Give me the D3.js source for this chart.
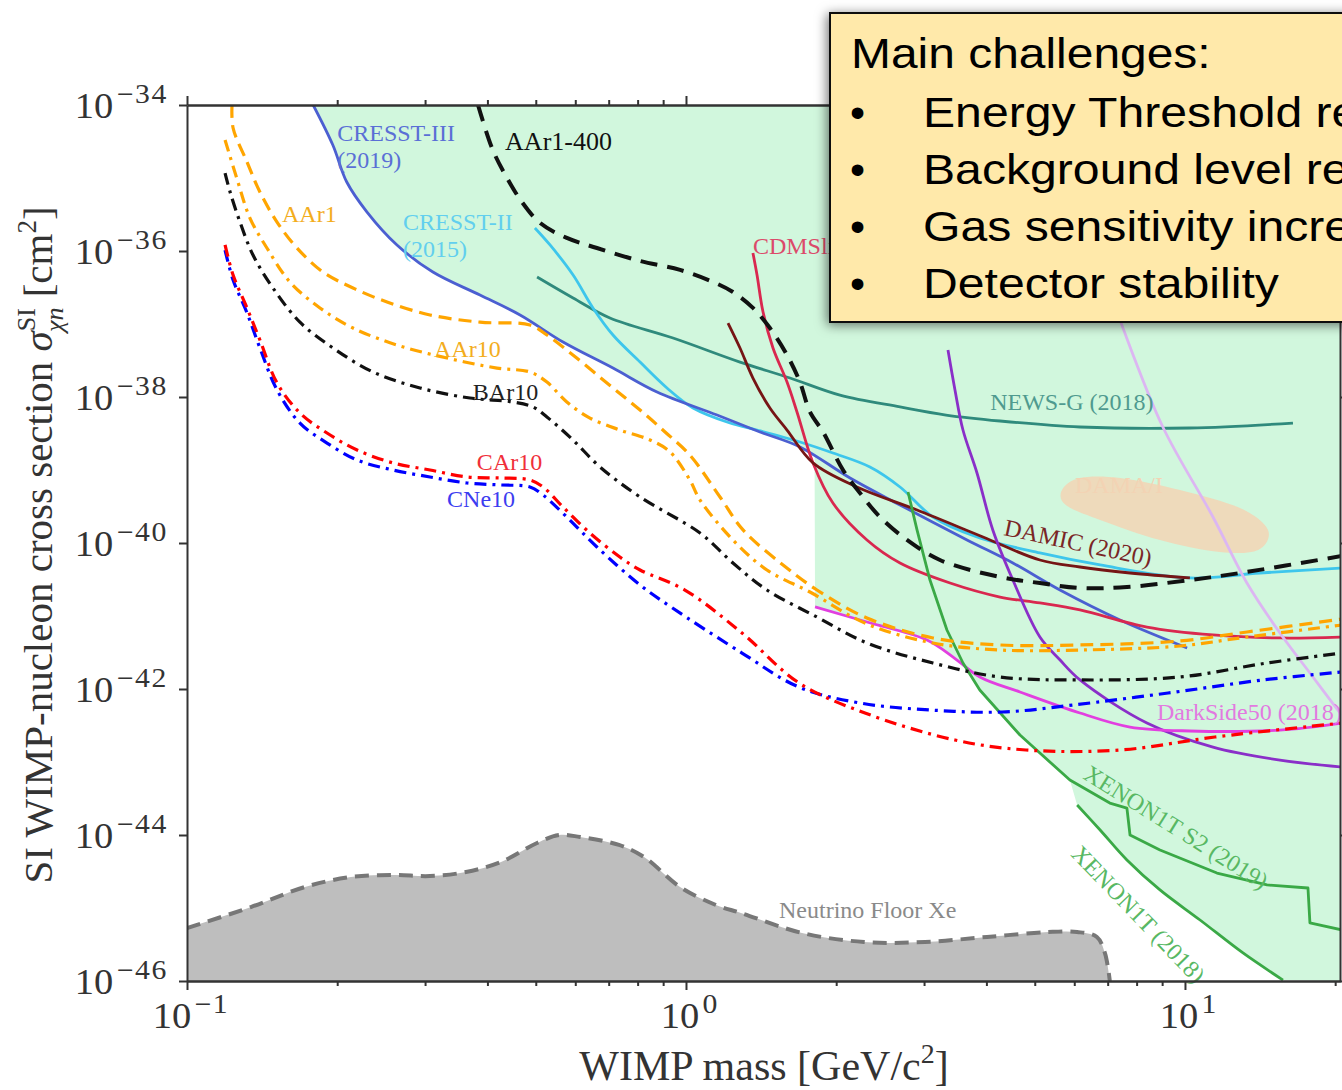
<!DOCTYPE html>
<html lang="en">
<head>
<meta charset="utf-8">
<title>SI WIMP-nucleon exclusion limits</title>
<script src="https://d3js.org/d3.v7.min.js"></script>
<style>
  body { margin: 0; background: #fff; }
  svg { display: block; }
</style>
</head>
<body>
<svg width="1342" height="1090"></svg>
<script>

// ---- data: [WIMP mass (GeV/c^2), cross section (cm^2)] ----
const xTicksMajor = [0.1, 1, 10];
const yTicksMajor = [1e-34, 1e-36, 1e-38, 1e-40, 1e-42, 1e-44, 1e-46];

const cresst3 = [[0.179,1e-34],[0.196,2.83e-35],[0.209,8.81e-36],[0.2295,3.42e-36],[0.2635,1.21e-36],[0.311,5.15e-37],[0.3865,2.49e-37],[0.465,1.33e-37],[0.567,5.66e-38],[0.714,2.49e-38],[0.875,1.17e-38],[1.154,5.66e-39],[1.407,3.32e-39],[1.692,2.07e-39],[2.132,7.77e-40],[2.685,3.32e-40],[3.658,1.10e-40],[4.52,5.32e-41],[5.617,2.27e-41],[7.41,8.81e-42],[10.1,3.65e-42]];
const cresst2 = [[0.498,2.07e-36],[0.534,1.21e-36],[0.594,4.69e-37],[0.651,1.66e-37],[0.714,7.06e-38],[0.809,3.01e-38],[0.916,1.33e-38],[1.033,7.06e-39],[1.225,4.40e-39],[1.388,3.53e-39],[1.692,2.42e-39],[1.97,1.71e-39],[2.337,1.10e-39],[2.685,5.85e-40],[3.126,2.27e-40],[3.83,1.21e-40],[5.12,7.30e-41],[6.76,5.0e-41],[10.23,3.32e-41],[14.14,3.88e-41],[20.64,4.55e-41]];
const newsG = [[0.503,4.40e-37],[0.594,2.27e-37],[0.704,1.21e-37],[0.942,6.43e-38],[1.283,3.01e-38],[1.616,1.82e-38],[2.035,1.06e-38],[2.685,7.30e-39],[3.32,5.66e-39],[4.26,4.69e-39],[6.16,3.88e-39],[10.23,3.76e-39],[16.46,4.40e-39]];
const aar1_400 = [[0.383,1e-34],[0.410,2.42e-35],[0.438,1e-35],[0.469,4.69e-36],[0.510,2.42e-36],[0.577,1.51e-36],[0.663,1.10e-36],[0.809,7.30e-37],[0.973,5.5e-37],[1.133,3.76e-37],[1.242,2.74e-37],[1.362,1.66e-37],[1.473,8.81e-38],[1.594,3.76e-38],[1.692,1.60e-38],[1.772,6.24e-39],[1.882,3.32e-39],[2.064,1e-39],[2.232,4.84e-40],[2.448,2.27e-40],[2.773,1.10e-40],[3.228,5.85e-41],[4.26,3.42e-41],[5.12,2.83e-41],[6.16,2.42e-41],[7.65,2.49e-41],[10.23,3.11e-41],[12.89,3.88e-41],[20.64,6.64e-41]];
const aar1 = [[0.1231,1e-34],[0.1237,4.84e-35],[0.1319,1.66e-35],[0.140,6.43e-36],[0.1515,2.49e-36],[0.1661,1.10e-36],[0.1873,5.15e-37],[0.2151,3.11e-37],[0.2517,2.0e-37],[0.3069,1.33e-37],[0.3865,1.06e-37],[0.4868,9.68e-38],[0.5264,7.06e-38],[0.5935,3.76e-38],[0.714,1.33e-38],[0.809,6.64e-39],[0.908,3.32e-39],[1.018,1.60e-39],[1.17,4.27e-40],[1.301,1.51e-40],[1.565,5.0e-41],[1.83,2.27e-41],[2.305,9.4e-42],[3.126,5.0e-42],[4.26,4.01e-42],[6.16,4.01e-42],[9.77,4.55e-42],[13.31,6.04e-42],[20.64,9.1e-42]];
const aar10 = [[0.1192,3.32e-35],[0.1265,8.81e-36],[0.1337,2.83e-36],[0.1446,1.10e-36],[0.1608,3.76e-37],[0.1847,1.66e-37],[0.2151,8.81e-38],[0.2635,5.15e-38],[0.3319,3.42e-38],[0.418,2.49e-38],[0.4868,2.20e-38],[0.5264,1.60e-38],[0.577,8.55e-39],[0.642,5.15e-39],[0.737,3.53e-39],[0.847,2.58e-39],[0.929,1.77e-39],[1.018,7.30e-40],[1.067,3.88e-40],[1.242,1.10e-40],[1.453,4.27e-41],[1.772,2.13e-41],[2.305,7.77e-42],[3.126,4.27e-42],[4.26,3.42e-42],[6.16,3.42e-42],[9.77,3.88e-42],[13.31,5.15e-42],[20.64,7.53e-42]];
const bar10 = [[0.1192,1.17e-35],[0.122,6.43e-36],[0.1277,2.49e-36],[0.1356,8.81e-37],[0.1487,3.11e-37],[0.1684,1.06e-37],[0.1962,4.69e-38],[0.2359,2.20e-38],[0.293,1.33e-38],[0.369,9.68e-39],[0.45,8.55e-39],[0.4935,7.30e-39],[0.5264,5.32e-39],[0.5935,2.58e-39],[0.6725,1.10e-39],[0.809,4.27e-40],[1.067,1.37e-40],[1.242,5.32e-41],[1.453,2.27e-41],[1.83,9.68e-42],[2.305,4.27e-42],[3.126,2.27e-42],[4.26,1.46e-42],[6.16,1.33e-42],[9.77,1.46e-42],[14.6,2.27e-42],[20.64,3.11e-42]];
const car10 = [[0.1192,1.21e-36],[0.1237,4.69e-37],[0.1319,1.66e-37],[0.140,6.04e-38],[0.1515,1.56e-38],[0.1684,6.04e-39],[0.1908,3.21e-39],[0.2192,1.88e-39],[0.2587,1.25e-39],[0.3069,1.0e-39],[0.364,8.02e-40],[0.424,7.77e-40],[0.4868,7.30e-40],[0.517,5.85e-40],[0.567,3.11e-40],[0.642,1.37e-40],[0.737,6.43e-41],[0.809,4.27e-41],[0.995,2.27e-41],[1.295,5.85e-42],[1.685,1.21e-42],[2.284,4.69e-43],[3.46,2.0e-43],[4.80,1.46e-43],[7.41,1.46e-43],[11.48,2.20e-43],[20.64,3.42e-43]];
const cne10 = [[0.1192,1.03e-36],[0.1237,4.01e-37],[0.1319,1.42e-37],[0.140,4.69e-38],[0.1515,1.25e-38],[0.1684,4.40e-39],[0.1908,2.34e-39],[0.2192,1.37e-39],[0.2587,1.0e-39],[0.3069,8.02e-40],[0.364,6.64e-40],[0.424,6.24e-40],[0.4868,5.85e-40],[0.517,4.55e-40],[0.577,2.27e-40],[0.663,8.81e-41],[0.809,2.66e-41],[0.933,1.33e-41],[1.295,3.11e-42],[1.685,1.06e-42],[2.232,6.43e-43],[3.097,5.15e-43],[4.30,4.84e-43],[5.97,6.04e-43],[9.25,8.81e-43],[14.33,1.33e-42],[20.64,1.71e-42]];
const cdmsLite = [[1.362,9.4e-37],[1.388,4.69e-37],[1.427,1.46e-37],[1.494,4.69e-38],[1.594,1.60e-38],[1.669,6.24e-39],[1.797,1.25e-39],[1.97,3.53e-40],[2.305,1.10e-40],[2.685,5.32e-41],[3.382,2.83e-41],[4.26,1.82e-41],[5.12,1.51e-41],[6.16,1.21e-41],[8.39,7.06e-42],[11.38,5.5e-42],[15.5,5.0e-42],[20.64,5.15e-42]];
const damic = [[1.214,1.03e-37],[1.283,4.69e-38],[1.362,1.82e-38],[1.473,7.06e-39],[1.594,3.53e-39],[1.797,1.25e-39],[2.201,5.85e-40],[2.904,2.83e-40],[3.937,1.21e-40],[5.12,5.85e-41],[6.16,4.69e-41],[7.76,3.88e-41],[10.23,3.32e-41]];
const darkSide50 = [[1.814,1.33e-41],[2.305,8.28e-42],[3.04,4.69e-42],[3.43,2.74e-42],[3.88,1.46e-42],[4.67,9.1e-43],[6.16,4.69e-43],[7.76,3.01e-43],[10.23,2.66e-43],[15.5,2.74e-43],[20.64,3.42e-43]];
const violetLimit = [[3.35,4.40e-38],[3.46,1.25e-38],[3.59,3.53e-39],[3.83,9.1e-40],[4.12,1.51e-40],[4.52,3.11e-41],[5.12,5.15e-42],[5.62,2.49e-42],[6.16,1.33e-42],[8.39,3.42e-43],[11.38,1.60e-43],[15.5,1.06e-43],[20.64,8.55e-44]];
const lavenderLimit = [[6.60,1.03e-36],[7.41,1.13e-37],[9.03,3.88e-39],[11.38,2.27e-40],[13.31,2.83e-41],[15.5,5.85e-42],[18.05,1.46e-42],[20.45,4.69e-43]];
const xenonS2 = [[2.786,5.0e-40],[2.904,1.51e-40],[3.083,3.11e-41],[3.334,6.43e-42],[3.59,2.27e-42],[3.88,9.68e-43],[4.67,2.34e-43],[5.88,5.66e-44],[7.07,2.74e-44],[7.65,2.34e-44],[7.76,1.0e-44],[8.91,6.24e-45],[11.59,3.01e-45],[14.6,2.07e-45],[17.64,1.88e-45],[17.8,6.24e-46],[20.64,5.0e-46]];
const xenon1t = [[6.08,2.58e-44],[6.76,1.17e-44],[7.65,4.55e-45],[8.91,1.77e-45],[10.72,6.85e-46],[13.07,2.42e-46],[15.72,1.03e-46]];
const neutrinoFloor = [[0.1,5.32e-46],[0.1343,1.03e-45],[0.1723,1.94e-45],[0.2131,2.66e-45],[0.260,2.83e-45],[0.3069,2.74e-45],[0.3623,3.11e-45],[0.426,4.27e-45],[0.503,7.77e-45],[0.5564,1.0e-44],[0.6133,9.4e-45],[0.734,7.30e-45],[0.824,5.0e-45],[0.973,1.94e-45],[1.148,1.10e-45],[1.289,8.55e-46],[1.708,4.55e-46],[2.274,3.42e-46],[3.013,3.42e-46],[4.01,4.01e-46],[5.32,4.69e-46],[6.08,4.69e-46],[6.66,4.01e-46],[6.91,2.42e-46],[7.07,1e-46]];
const damaRegion = [[5.67,5.32e-40],[6.16,7.77e-40],[7.41,7.77e-40],[9.77,5.32e-40],[12.89,3.01e-40],[14.67,1.51e-40],[14.01,8.02e-41],[11.75,7.53e-41],[8.91,1.10e-40],[6.76,2.07e-40],[5.77,3.32e-40]];

// curve labels: [text, mass, sigma, rotation]
const curveLabels = [
  ["CRESST-III", 0.2, 3.21e-35, 0], ["(2019)", 0.2, 1.37e-35, 0],
  ["AAr1-400", 0.434, 2.42e-35, 0],
  ["AAr1", 0.155, 2.49e-36, 0],
  ["CRESST-II", 0.271, 1.94e-36, 0], ["(2015)", 0.271, 8.28e-37, 0],
  ["AAr10", 0.3126, 3.53e-38, 0],
  ["BAr10", 0.374, 9.1e-39, 0],
  ["CAr10", 0.381, 1e-39, 0],
  ["CNe10", 0.332, 3.11e-40, 0],
  ["CDMSlite", 1.362, 9.1e-37, 0],
  ["NEWS-G (2018)", 4.07, 6.64e-39, 0],
  ["DAMA/I", 6.02, 4.84e-40, 0],
  ["DAMIC (2020)", 4.32, 1.29e-40, 12],
  ["DarkSide50 (2018)", 8.79, 3.76e-43, 0],
  ["XENON1T S2 (2019)", 6.22, 6.04e-44, 32],
  ["XENON1T (2018)", 5.88, 5.32e-45, 46],
  ["Neutrino Floor Xe", 1.536, 7.30e-46, 0]
];

const boxTitle = "Main challenges:";
const boxItems = ["Energy Threshold reduction", "Background level reduction", "Gas sensitivity increase", "Detector stability"];

// ---- scales ----
const svg = d3.select("svg");
const x = d3.scaleLog().domain([0.1, 20.45]).range([187, 1340]);
const y = d3.scaleLog().domain([1e-46, 1e-34]).range([981, 105]);
const serif = "'Liberation Serif', 'DejaVu Serif', serif";

const defs = svg.append("defs");
defs.append("clipPath").attr("id", "plotclip")
    .append("rect").attr("x", 187).attr("y", 105).attr("width", 1153).attr("height", 876);
const shadow = defs.append("filter").attr("id", "shadow")
    .attr("x", "-10%").attr("y", "-20%").attr("width", "130%").attr("height", "140%");
shadow.append("feDropShadow").attr("dx", -2).attr("dy", 2).attr("stdDeviation", 6)
    .attr("flood-color", "#000").attr("flood-opacity", 0.55);

const line = d3.line().x(d => x(d[0])).y(d => y(d[1]));
const smooth = d3.line().x(d => x(d[0])).y(d => y(d[1])).curve(d3.curveCatmullRom.alpha(0.5));

const plot = svg.append("g").attr("clip-path", "url(#plotclip)");

// excluded region (green), stitched from the experimental limits
const excluded = [].concat(
  cresst3.filter(d => d[0] <= 1.7),
  [[1.81, 1.56e-39]],
  darkSide50.filter(d => d[0] <= 3.5),
  xenonS2.filter(d => d[0] >= 3.5 && d[0] <= 6),
  xenon1t,
  [[21, 1e-46], [21, 1e-34]]
);
plot.append("path").attr("d", line(excluded) + "Z").attr("fill", "#d1f7dd");

// DAMA/I region
plot.append("path")
    .attr("d", d3.line().x(d => x(d[0])).y(d => y(d[1])).curve(d3.curveCardinalClosed)(damaRegion))
    .attr("fill", "#efd8b8").attr("opacity", 0.95);

// neutrino floor
const floorArea = d3.area().x(d => x(d[0])).y0(y(1e-46)).y1(d => y(d[1])).curve(d3.curveCatmullRom.alpha(0.5));
plot.append("path").attr("d", floorArea(neutrinoFloor)).attr("fill", "#bebebe");
plot.append("path").attr("d", smooth(neutrinoFloor)).attr("fill", "none")
    .attr("stroke", "#777").attr("stroke-width", 4).attr("stroke-dasharray", "14,8");

const dash = "13,7", dashDot = "12,6,3,6";
const curves = [
  { data: newsG, color: "#2f8a7c", w: 2.8 },
  { data: cresst2, color: "#3ec6ec", w: 2.8 },
  { data: cresst3, color: "#4b5fd1", w: 2.8 },
  { data: cdmsLite, color: "#d9284f", w: 2.8 },
  { data: damic, color: "#761515", w: 2.8 },
  { data: lavenderLimit, color: "#dcb6f2", w: 2.8 },
  { data: violetLimit, color: "#8a2fc8", w: 2.8 },
  { data: darkSide50, color: "#e23fe0", w: 2.8 },
  { data: xenonS2, color: "#3aa946", w: 2.8, linear: true },
  { data: xenon1t, color: "#3aa946", w: 2.8 },
  { data: aar1_400, color: "#111", w: 4, dash: "17,10" },
  { data: aar1, color: "#ffa500", w: 3.2, dash: dash },
  { data: aar10, color: "#ffa500", w: 3.2, dash: dashDot },
  { data: bar10, color: "#111", w: 3.2, dash: dashDot },
  { data: cne10, color: "#0000ff", w: 3.2, dash: dashDot },
  { data: car10, color: "#ff0000", w: 3.2, dash: dashDot }
];
plot.selectAll("path.limit")
    .data(curves)
    .join("path")
    .attr("class", "limit")
    .attr("d", c => (c.linear ? line : smooth)(c.data))
    .attr("fill", "none")
    .attr("stroke", c => c.color)
    .attr("stroke-width", c => c.w)
    .attr("stroke-dasharray", c => c.dash || null)
    .attr("stroke-linejoin", "round");

// curve labels
const labelColor = {
  "CRESST-III": "#5a6fd6", "(2019)": "#5a6fd6", "AAr1-400": "#111", "AAr1": "#f3ad1d",
  "CRESST-II": "#62cfee", "(2015)": "#62cfee", "AAr10": "#f3ad1d", "BAr10": "#222",
  "CAr10": "#f0303a", "CNe10": "#3d3df0", "CDMSlite": "#dc4a6a", "NEWS-G (2018)": "#4f9a8f",
  "DAMA/I": "#f3d3b4", "DAMIC (2020)": "#7a2626", "DarkSide50 (2018)": "#e27ae0",
  "XENON1T S2 (2019)": "#58b863", "XENON1T (2018)": "#58b863", "Neutrino Floor Xe": "#8a8a8a"
};
svg.append("g").selectAll("text")
    .data(curveLabels)
    .join("text")
    .attr("transform", d => `translate(${x(d[1])},${y(d[2])}) rotate(${d[3]})`)
    .attr("font-family", serif)
    .attr("font-size", d => d[0] === "AAr1-400" ? 26 : 24)
    .attr("fill", d => labelColor[d[0]])
    .text(d => d[0]);

// ---- axes ----
const axisColor = "#333";
const minorX = x.ticks().filter(v => !xTicksMajor.includes(v));
function styleAxis(g) {
  g.selectAll("path, line").attr("stroke", axisColor).attr("stroke-width", 2);
  g.selectAll("text").remove();
}
svg.append("g").attr("transform", "translate(0,981)")
    .call(d3.axisBottom(x).tickValues(xTicksMajor).tickSize(9).tickSizeOuter(0)).call(styleAxis);
svg.append("g").attr("transform", "translate(0,981)")
    .call(d3.axisBottom(x).tickValues(minorX).tickSize(5).tickSizeOuter(0)).call(styleAxis);
svg.append("g").attr("transform", "translate(0,105)")
    .call(d3.axisTop(x).tickValues(xTicksMajor).tickSize(9).tickSizeOuter(0)).call(styleAxis);
svg.append("g").attr("transform", "translate(0,105)")
    .call(d3.axisTop(x).tickValues(minorX).tickSize(5).tickSizeOuter(0)).call(styleAxis);
svg.append("g").attr("transform", "translate(187,0)")
    .call(d3.axisLeft(y).tickValues(yTicksMajor).tickSize(8).tickSizeOuter(0)).call(styleAxis);
svg.append("g").attr("transform", "translate(1340,0)")
    .call(d3.axisRight(y).tickValues(yTicksMajor).tickSize(8).tickSizeOuter(0)).call(styleAxis);

// tick labels as 10^n, slightly widened like the TeX glyphs of the original
function powerOfTen(sel, v) {
  const e = Math.round(Math.log10(v));
  sel.append("tspan").text("10");
  sel.append("tspan").attr("font-size", 27).attr("dy", -15).attr("dx", 3)
     .attr("letter-spacing", 1.5)
     .text(e < 0 ? "\u2212" + (-e) : String(e));
}
svg.append("g").selectAll("text")
    .data(xTicksMajor)
    .join("text")
    .attr("transform", d => `translate(${x(d) + 4},1028) scale(1.1,1)`)
    .attr("text-anchor", "middle")
    .attr("font-family", serif).attr("font-size", 35).attr("fill", axisColor)
    .each(function(d) { powerOfTen(d3.select(this), d); });
svg.append("g").selectAll("text")
    .data(yTicksMajor)
    .join("text")
    .attr("transform", d => `translate(168,${y(d) + 13}) scale(1.1,1)`)
    .attr("text-anchor", "end")
    .attr("font-family", serif).attr("font-size", 35).attr("fill", axisColor)
    .each(function(d) { powerOfTen(d3.select(this), d); });

// axis titles
const xTitle = svg.append("text")
    .attr("x", 764).attr("y", 1080).attr("text-anchor", "middle")
    .attr("font-family", serif).attr("font-size", 42).attr("fill", axisColor);
xTitle.append("tspan").text("WIMP mass [GeV/c");
xTitle.append("tspan").attr("font-size", 28).attr("dy", -17).text("2");
xTitle.append("tspan").attr("dy", 17).text("]");

const yTitle = svg.append("text")
    .attr("transform", "translate(52,545) rotate(-90)").attr("text-anchor", "middle")
    .attr("font-family", serif).attr("font-size", 41).attr("fill", axisColor);
yTitle.append("tspan").text("SI WIMP-nucleon cross section ");
yTitle.append("tspan").attr("font-style", "italic").text("\u03c3");
yTitle.append("tspan").attr("font-size", 26).attr("dy", -17).text("SI");
yTitle.append("tspan").attr("font-size", 26).attr("font-style", "italic").attr("dx", -24).attr("dy", 28).text("\u03c7n");
yTitle.append("tspan").attr("dy", -11).text(" [cm");
yTitle.append("tspan").attr("font-size", 27).attr("dy", -16).text("2");
yTitle.append("tspan").attr("dy", 16).text("]");

// ---- callout box ----
const box = svg.append("g");
box.append("rect")
    .attr("x", 830).attr("y", 13).attr("width", 560).attr("height", 309)
    .attr("fill", "#ffe9aa").attr("stroke", "#111").attr("stroke-width", 2)
    .attr("filter", "url(#shadow)");
const sans = "'Liberation Sans', Arial, sans-serif";
box.append("text")
    .attr("transform", "translate(851,68) scale(1.115,1)")
    .attr("font-family", sans).attr("font-size", 43).attr("fill", "#000").text(boxTitle);
box.selectAll("text.bullet")
    .data(boxItems)
    .join("text").attr("class", "bullet")
    .attr("x", 850).attr("y", (d, i) => 127 + i * 57)
    .attr("font-family", sans).attr("font-size", 43).attr("fill", "#000")
    .text("\u2022");
box.selectAll("text.item")
    .data(boxItems)
    .join("text").attr("class", "item")
    .attr("transform", (d, i) => `translate(923,${127 + i * 57}) scale(1.12,1)`)
    .attr("font-family", sans).attr("font-size", 43).attr("fill", "#000")
    .text(d => d);

</script>
</body>
</html>
